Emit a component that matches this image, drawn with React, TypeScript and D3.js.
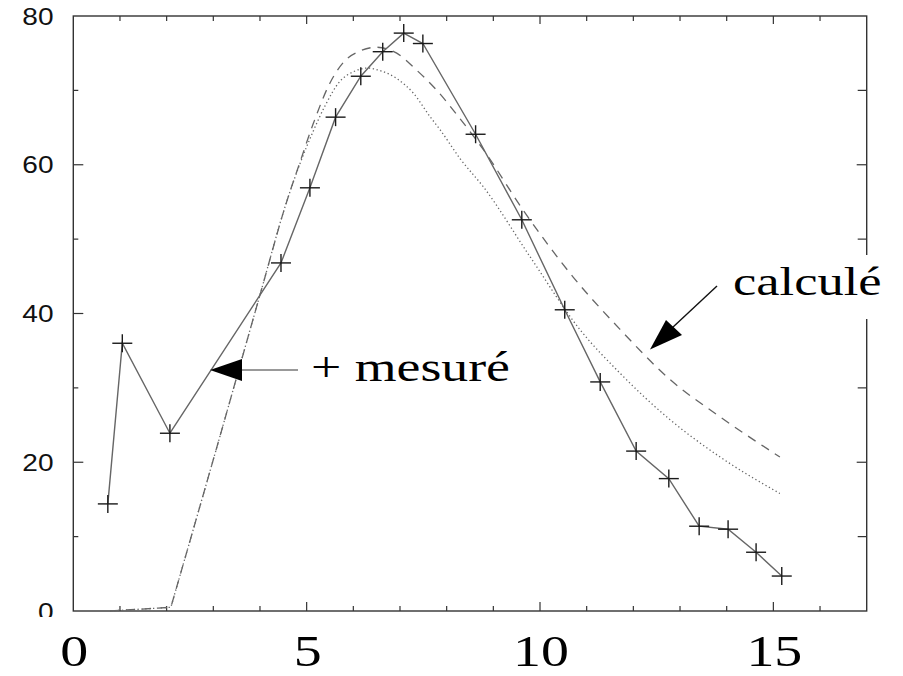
import React from "react";
import * as d3 from "d3";

const measuredX = [0.74, 1.05, 2.07, 4.45, 5.07, 5.62, 6.16, 6.63, 7.08, 7.49, 8.62, 9.61, 10.53, 11.29, 12.06, 12.76, 13.41, 14.03, 14.63, 15.18];
const measuredY = [14.4, 36.0, 23.9, 46.8, 56.9, 66.4, 71.9, 75.2, 77.7, 76.3, 64.1, 52.6, 40.5, 30.8, 21.5, 17.8, 11.4, 11.0, 7.9, 4.7];

const dashedX = [0.79, 2.09, 3.07, 4.0, 4.57, 4.86, 5.14, 5.5, 5.82, 6.11, 6.5, 6.93, 7.36, 7.79, 8.21, 8.79, 9.64, 10.71, 11.71, 12.79, 13.86, 15.14];
const dashedY = [0, 0.5, 21.9, 42.5, 55.0, 60.4, 65.5, 71.0, 74.0, 75.2, 75.8, 75.0, 72.7, 70.0, 66.8, 62.0, 53.9, 44.9, 37.9, 31.1, 26.1, 20.7];

const dottedX = [0.79, 2.09, 3.07, 4.0, 4.57, 4.86, 5.14, 5.4, 5.71, 6.0, 6.3, 6.6, 6.93, 7.29, 7.64, 7.86, 8.29, 8.79, 9.79, 10.86, 11.71, 12.79, 13.86, 15.14];
const dottedY = [0, 0.5, 21.9, 42.5, 55.0, 60.2, 64.5, 68.0, 71.2, 72.5, 73.0, 72.6, 71.6, 69.6, 66.5, 64.7, 60.8, 57.0, 47.6, 37.8, 32.0, 25.7, 20.7, 15.8];

const xTickLabels = ["0", "5", "10", "15"];
const xTickValues = [0, 5, 10, 15];
const yTickLabels = ["0", "20", "40", "60", "80"];
const yTickValues = [0, 20, 40, 60, 80];
const labelMeasured = "+ mesuré";
const labelCalc = "calculé";

const W = 903;
const H = 676;
const left = 73.3;
const right = 866.7;
const top = 16;
const bottom = 611;

const serif = "'Liberation Serif', 'Times New Roman', serif";
const sans = "'Liberation Sans', Arial, Helvetica, sans-serif";

export default function App() {
  const x = d3.scaleLinear().domain([0, 17]).range([left, right]);
  const y = d3.scaleLinear().domain([0, 80]).range([bottom, top]);

  const toPts = (xs: number[], ys: number[]) => xs.map((v, i) => [v, ys[i]] as [number, number]);
  const line = d3
    .line<[number, number]>()
    .x((d) => x(d[0]))
    .y((d) => y(d[1]));
  const smooth = d3
    .line<[number, number]>()
    .x((d) => x(d[0]))
    .y((d) => y(d[1]))
    .curve(d3.curveMonotoneX);

  // straight first segment (sharp corner), smooth afterwards
  const calcPath = (pts: [number, number][]) => {
    const head = line(pts.slice(0, 2)) || "";
    const tail = (smooth(pts.slice(1)) || "").replace(/^M/, "L");
    return head + tail;
  };

  const measured = toPts(measuredX, measuredY);
  const dashed = toPts(dashedX, dashedY);
  const dotted = toPts(dottedX, dottedY);

  const xMinor = d3.range(1, 17);
  const yMinor = d3.range(10, 80, 10);
  const frameColor = "#333";

  return (
    <svg
      width={W}
      height={H}
      style={{ position: "absolute", left: 0, top: 0, background: "#fff" }}
    >
      <defs>
        <clipPath id="ylabclip">
          <rect x={0} y={0} width={72} height={617} />
        </clipPath>
      </defs>
      <rect x={0} y={0} width={W} height={H} fill="#fff" />

      {/* frame */}
      <rect x={left} y={top} width={right - left} height={bottom - top} fill="none" stroke={frameColor} strokeWidth={1.4} />

      {/* x ticks bottom & top */}
      {xMinor.map((t) => {
        const major = t % 5 === 0;
        const lb = major ? 9 : 5;
        const lt = major ? 8 : 5;
        return (
          <g key={"xt" + t} stroke={frameColor} strokeWidth={1.2}>
            <line x1={x(t)} x2={x(t)} y1={bottom} y2={bottom - lb} />
            <line x1={x(t)} x2={x(t)} y1={top} y2={top + lt} />
          </g>
        );
      })}
      {/* y ticks left & right */}
      {yMinor.map((t) => {
        const major = t % 20 === 0;
        const l = major ? 10 : 5;
        const r = major ? 10 : 9;
        return (
          <g key={"yt" + t} stroke={frameColor} strokeWidth={1.2}>
            <line x1={left} x2={left + l} y1={y(t)} y2={y(t)} />
            <line x1={right} x2={right - r} y1={y(t)} y2={y(t)} />
          </g>
        );
      })}

      {/* y labels */}
      <g clipPath="url(#ylabclip)">
        {yTickValues.map((v, i) => (
          <text
            key={"yl" + v}
            transform={`translate(53.5, ${y(v) + 8.5}) scale(1.17,1)`}
            textAnchor="end"
            fontFamily={sans}
            fontSize={24}
            fill="#111"
          >
            {yTickLabels[i]}
          </text>
        ))}
      </g>

      {/* x labels */}
      {xTickValues.map((v, i) => (
        <text
          key={"xl" + v}
          transform={`translate(${x(v) + 1}, 666) scale(1.27,1)`}
          textAnchor="middle"
          fontFamily={serif}
          fontSize={44}
          fill="#000"
        >
          {xTickLabels[i]}
        </text>
      ))}

      {/* calculated curves */}
      <path d={calcPath(dashed)} fill="none" stroke="#666" strokeWidth={1.3} strokeDasharray="9,7" />
      <path d={calcPath(dotted)} fill="none" stroke="#666" strokeWidth={1.3} strokeDasharray="1.3,2.6" />

      {/* measured */}
      <path d={line(measured) || ""} fill="none" stroke="#666" strokeWidth={1.4} />
      {measured.map((d, i) => (
        <g key={"m" + i} stroke="#1a1a1a" strokeWidth={1.4}>
          <line x1={x(d[0]) - 10} x2={x(d[0]) + 10} y1={y(d[1])} y2={y(d[1])} />
          <line x1={x(d[0])} x2={x(d[0])} y1={y(d[1]) - 9} y2={y(d[1]) + 9} />
        </g>
      ))}

      {/* label: mesuré */}
      <line x1={298} x2={240} y1={370} y2={370} stroke="#777" strokeWidth={1.6} />
      <path d="M210,370 L242,359 L242,381 Z" fill="#000" />
      <text transform="translate(311,381) scale(1.28,1)" fontFamily={serif} fontSize={42} fill="#000">
        {labelMeasured}
      </text>

      {/* label: calculé (white box hides frame) */}
      <rect x={722} y={255} width={181} height={64} fill="#fff" />
      <line x1={717} y1={286} x2={672} y2={328} stroke="#111" strokeWidth={1.4} />
      <path d="M650,349.5 L666,320 L682,335 Z" fill="#000" />
      <text transform="translate(733,295) scale(1.28,1)" fontFamily={serif} fontSize={41} fill="#000">
        {labelCalc}
      </text>
    </svg>
  );
}
